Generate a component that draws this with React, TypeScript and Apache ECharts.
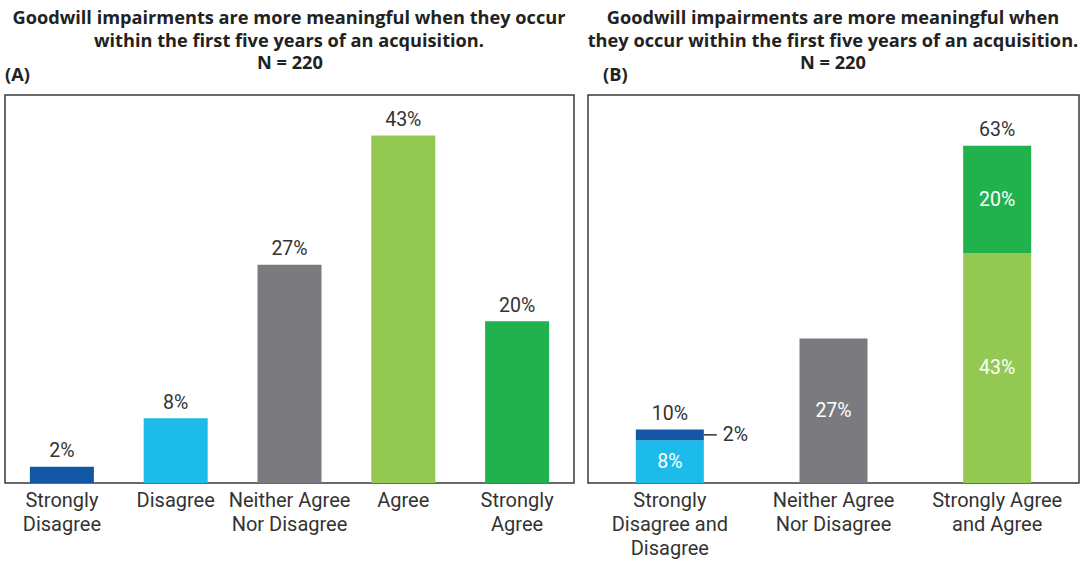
import React, { useEffect, useRef } from "react";
import * as echarts from "echarts";

const categoriesA = ["Strongly\nDisagree", "Disagree", "Neither Agree\nNor Disagree", "Agree", "Strongly\nAgree"];
const valuesA = [2, 8, 27, 43, 20];
const colorsA = ["#1257a5", "#1cbbea", "#7b7a7f", "#93c953", "#21b14d"];

const categoriesB = ["Strongly\nDisagree and\nDisagree", "Neither Agree\nNor Disagree", "Strongly Agree\nand Agree"];
const baseB = [8, 27, 43];
const baseColorsB = ["#1cbbea", "#7b7a7f", "#93c953"];
const topB: (number | null)[] = [2, null, 20];
const topColorsB = ["#1257a5", null, "#21b14d"];

const titleLines = ["Goodwill impairments are more meaningful when they occur", "within the first five years of an acquisition."];
const titleLinesB = ["Goodwill impairments are more meaningful when", "they occur within the first five years of an acquisition."];
const nLabel = "N = 220";

const TITLE_FONT = "'Open Sans', Roboto, sans-serif";
const FONT = "Roboto, 'Open Sans', sans-serif";
const TXT = "#333333";
const LABEL_SIZE = 20;
const DATA_SIZE = 19.5;

export default function App() {
  const ref = useRef<HTMLDivElement>(null);
  useEffect(() => {
    if (!ref.current) return;
    const chart = echarts.init(ref.current, null, { renderer: "svg" });
    const totalsB = baseB.map((b, i) => (topB[i] == null ? null : b + (topB[i] as number)));

    const titleText = (text: string, x: number, y: number, align = "center") => ({
      type: "text",
      x,
      y,
      style: {
        text,
        fill: "#222",
        font: `bold 18.2px ${TITLE_FONT}`,
        align,
        textAlign: align,
        verticalAlign: "middle",
        textVerticalAlign: "middle",
      },
    });

    const axisLabel = { color: TXT, fontSize: LABEL_SIZE, lineHeight: 24, margin: 5, interval: 0, fontFamily: FONT };

    const option: any = {
      animation: false,
      backgroundColor: "#fff",
      textStyle: { fontFamily: FONT },
      graphic: [
        titleText(titleLines[0], 289, 17),
        titleText(titleLines[1], 289, 40),
        titleText(nLabel, 290, 62),
        titleText("(A)", 5, 74, "left"),
        titleText(titleLinesB[0], 833, 17),
        titleText(titleLinesB[1], 833, 40),
        titleText(nLabel, 833, 62),
        titleText("(B)", 603, 74, "left"),
      ],
      grid: [
        { left: 5, top: 95, width: 569, height: 388, show: true, borderColor: "#3a3a3a", borderWidth: 1.5, backgroundColor: "transparent" },
        { left: 588, top: 95, width: 491, height: 388, show: true, borderColor: "#3a3a3a", borderWidth: 1.5, backgroundColor: "transparent" },
      ],
      xAxis: [
        { type: "category", gridIndex: 0, data: categoriesA, axisLine: { show: false }, axisTick: { show: false }, axisLabel },
        { type: "category", gridIndex: 1, data: categoriesB, axisLine: { show: false }, axisTick: { show: false }, axisLabel },
      ],
      yAxis: [
        { type: "value", gridIndex: 0, min: 0, max: 48, show: false, splitLine: { show: false } },
        { type: "value", gridIndex: 1, min: 0, max: 72.5, show: false, splitLine: { show: false } },
      ],
      series: [
        {
          type: "bar",
          xAxisIndex: 0,
          yAxisIndex: 0,
          barWidth: 64,
          data: valuesA.map((v, i) => ({ value: v, itemStyle: { color: colorsA[i] } })),
          label: { show: true, position: "top", distance: 6, color: TXT, fontSize: DATA_SIZE, fontFamily: FONT, formatter: "{c}%" },
        },
        {
          type: "bar",
          xAxisIndex: 1,
          yAxisIndex: 1,
          stack: "b",
          barWidth: 68,
          data: baseB.map((v, i) => ({ value: v, itemStyle: { color: baseColorsB[i] } })),
          label: { show: true, position: "inside", color: "#fff", fontSize: DATA_SIZE, fontFamily: FONT, formatter: "{c}%" },
        },
        {
          type: "bar",
          xAxisIndex: 1,
          yAxisIndex: 1,
          stack: "b",
          barWidth: 68,
          data: topB.map((v, i) => {
            if (v == null) return "-";
            if (i === 0) {
              return {
                value: v,
                itemStyle: { color: topColorsB[i] },
                label: {
                  show: true,
                  position: "right",
                  distance: 0,
                  color: TXT,
                  fontSize: DATA_SIZE,
                  formatter: "{l|}{t|" + v + "%}",
                  rich: {
                    l: { width: 13, height: 1.5, backgroundColor: "#333", verticalAlign: "middle" },
                    t: { color: TXT, fontSize: DATA_SIZE, fontFamily: FONT, padding: [0, 0, 0, 6], verticalAlign: "middle" },
                  },
                },
              };
            }
            return { value: v, itemStyle: { color: topColorsB[i] } };
          }),
          label: { show: true, position: "inside", color: "#fff", fontSize: DATA_SIZE, fontFamily: FONT, formatter: "{c}%" },
        },
        {
          type: "bar",
          xAxisIndex: 1,
          yAxisIndex: 1,
          stack: "b",
          barWidth: 68,
          data: totalsB.map((v) => (v == null ? "-" : 0)),
          itemStyle: { color: "rgba(0,0,0,0)" },
          label: {
            show: true,
            position: "top",
            distance: 6,
            color: TXT,
            fontSize: DATA_SIZE,
            fontFamily: FONT,
            formatter: (p: any) => totalsB[p.dataIndex] + "%",
          },
        },
      ],
    };
    chart.setOption(option);
    return () => chart.dispose();
  }, []);
  return <div ref={ref} style={{ position: "fixed", left: 0, top: 0, width: 1083, height: 561 }} />;
}
